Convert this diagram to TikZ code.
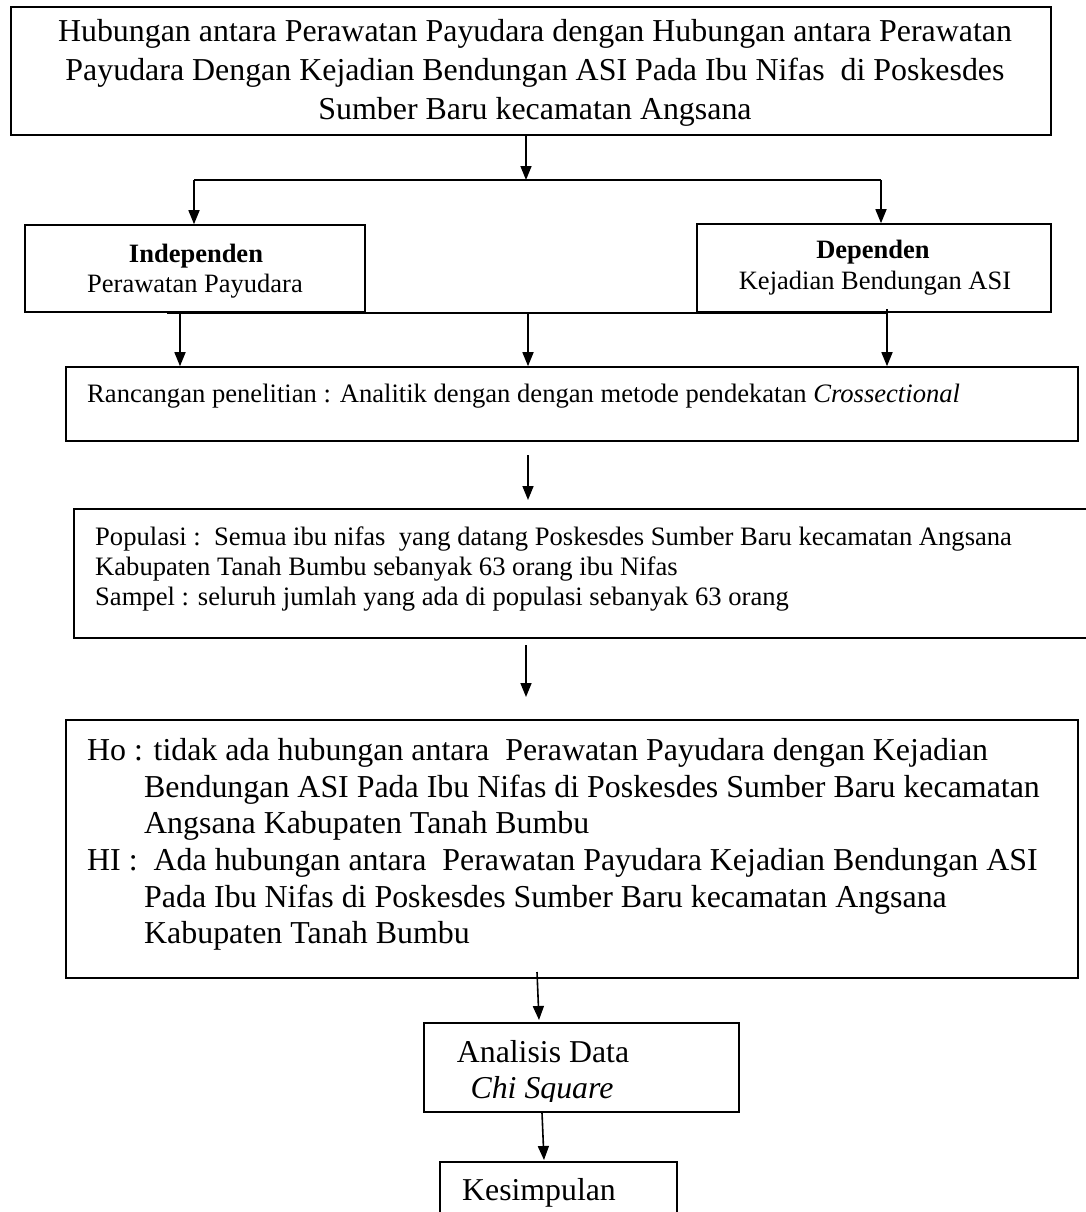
\documentclass[tikz,border=0pt]{standalone}
\usepackage{fontspec}
\setmainfont{Liberation Serif}
\usetikzlibrary{arrows.meta,calc}
\begin{document}
\begin{tikzpicture}[x=1pt,y=-1pt,
  box/.style={draw,line width=1.6pt,inner sep=0pt,rectangle},
  arr/.style={line width=1.6pt,-{Triangle[length=14pt,width=11pt]}},
  conn/.style={line width=1.6pt},
  txt/.style={inner sep=0pt,anchor=base},
  txtl/.style={inner sep=0pt,anchor=base west},
  big/.style={font=\fontsize{31.9}{37}\selectfont},
  mid/.style={font=\fontsize{26.6}{30}\selectfont},
  sml/.style={font=\fontsize{26.5}{30}\selectfont},
  ana/.style={font=\fontsize{31.8}{36}\selectfont}
]
\useasboundingbox (0,0) rectangle (1085,1212);

% boxes
\node[box,minimum width=1040pt,minimum height=128pt] (top) at (531,71) {};
\node[box,minimum width=340pt,minimum height=87pt] (ind) at (195,268.5) {};
\node[box,minimum width=354pt,minimum height=88pt] (dep) at (874,268) {};
\node[box,minimum width=1012pt,minimum height=74pt] (ran) at (572,404) {};
\node[box,minimum width=1021pt,minimum height=129pt] (pop) at (584.5,573.5) {};
\node[box,minimum width=1012pt,minimum height=258pt] (hyp) at (572,849) {};
\node[box,minimum width=315pt,minimum height=89pt] (ana) at (581.5,1067.5) {};
\node[box,minimum width=237pt,minimum height=78pt] (kes) at (558.5,1201) {};

% texts
\node[txt,big] (t1) at (535,42) {Hubungan antara Perawatan Payudara dengan Hubungan antara Perawatan};
\node[txt,big] (t2) at (535,81) {Payudara Dengan Kejadian Bendungan ASI Pada Ibu Nifas\ \ di Poskesdes};
\node[txt,big] (t3) at (535,120) {Sumber Baru kecamatan Angsana};

\node[txt,sml] (i1) at (196,262) {\textbf{Independen}};
\node[txt,sml] (i2) at (195,292) {Perawatan Payudara};
\node[txt,sml] (d1) at (873,258) {\textbf{Dependen}};
\node[txt,sml] (d2) at (875,289) {Kejadian Bendungan ASI};

\node[txtl,mid] (r1) at (87,402) {Rancangan penelitian : Analitik dengan dengan metode pendekatan \textit{Crossectional}};

\node[txtl,mid] (q1) at (95,545) {Populasi :\ \ Semua ibu nifas\ \ yang datang Poskesdes Sumber Baru kecamatan Angsana};
\node[txtl,mid] (q2) at (95,575) {Kabupaten Tanah Bumbu sebanyak 63 orang ibu Nifas};
\node[txtl,mid] (q3) at (95,605) {Sampel : seluruh jumlah yang ada di populasi sebanyak 63 orang};

\node[txtl,big] (h1) at (87,760) {Ho : tidak ada hubungan antara\ \ Perawatan Payudara dengan Kejadian};
\node[txtl,big] (h2) at (144,797) {Bendungan ASI Pada Ibu Nifas di Poskesdes Sumber Baru kecamatan};
\node[txtl,big] (h3) at (144,833) {Angsana Kabupaten Tanah Bumbu};
\node[txtl,big] (h4) at (87,870) {HI :\ \ Ada hubungan antara\ \ Perawatan Payudara Kejadian Bendungan ASI};
\node[txtl,big] (h5) at (144,907) {Pada Ibu Nifas di Poskesdes Sumber Baru kecamatan Angsana};
\node[txtl,big] (h6) at (144,943) {Kabupaten Tanah Bumbu};

\node[txt,ana] (a1t) at (543,1062) {Analisis Data};
\begin{scope}
  \clip (424,1023) rectangle (739,1101);
  \node[txt,ana] (a2t) at (542,1098) {\textit{Chi Square}};
\end{scope}
\node[txtl,ana] (k1) at (462,1200) {Kesimpulan};

% connectors
\coordinate (hL) at (194,180);
\coordinate (hM) at (526,180);
\coordinate (hR) at (881,180);
\draw[arr] (top.south -| hM) -- (hM);
\draw[conn] (hL) -- (hR);
\draw[arr] (hL) -- (hL |- ind.north);
\draw[arr] (hR) -- (hR |- dep.north);

\coordinate (bL) at (167,313);
\coordinate (bR) at (887,313);
\coordinate (b1) at (180,311);
\coordinate (b2) at (528,313);
\coordinate (b3) at (887,309);
\draw[conn] (bL) -- (bR);
\draw[arr] (b1) -- (b1 |- ran.north);
\draw[arr] (b2) -- (b2 |- ran.north);
\draw[arr] (b3) -- (b3 |- ran.north);

\coordinate (p1) at (528,455);
\coordinate (p2) at (528,500);
\draw[arr] (p1) -- (p2);

\coordinate (p3) at (526,645);
\coordinate (p4) at (526,697);
\draw[arr] (p3) -- (p4);

\coordinate (p5) at (537,972);
\coordinate (p6) at (539,1020);
\draw[arr] (p5) -- (p6);

\coordinate (p7) at (542,1112);
\coordinate (p8) at (544,1160);
\draw[arr] (ana.south -| p7) -- (p8);
\end{tikzpicture}
\end{document}
